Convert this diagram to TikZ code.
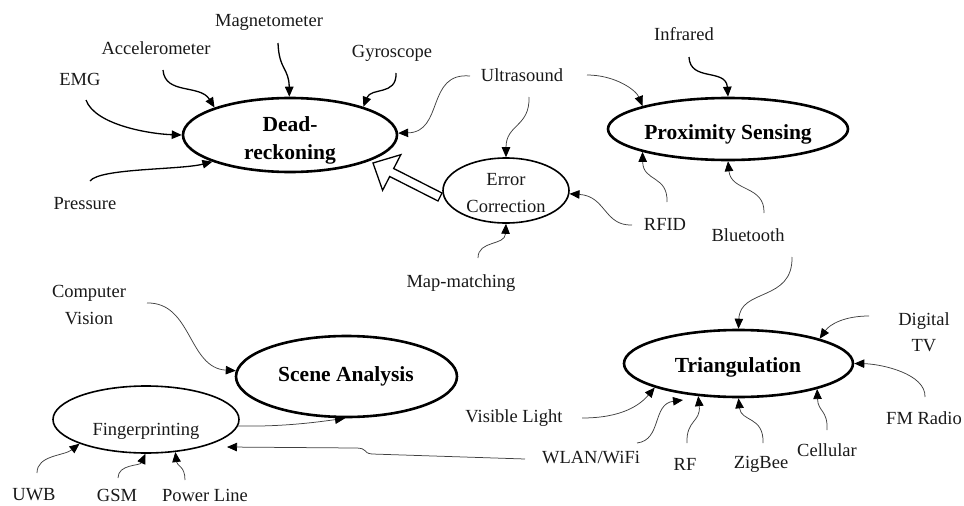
\documentclass[tikz,border=0pt]{standalone}
\usepackage{fontspec}
\setmainfont{Liberation Serif}
\usetikzlibrary{arrows.meta,shapes.geometric}
\tikzset{
  lab/.style={inner sep=0pt, font=\fontsize{18.5}{26.5}\selectfont, align=center, text=black!90},
  maintext/.style={inner sep=0pt, font=\fontsize{21.5}{28}\selectfont\bfseries, align=center},
  mainell/.style={ellipse, draw, line width=2.6pt, inner sep=0pt},
  subell/.style={ellipse, draw, line width=1.6pt, inner sep=0pt},
  strong/.style={line width=1.3pt, -{Triangle[length=10pt,width=8.5pt]}},
  weak/.style={line width=0.75pt, draw=black!75, -{Triangle[length=10pt,width=8.5pt,color=black]}},
}
\begin{document}
\begin{tikzpicture}[x=1pt,y=-1pt]
\useasboundingbox (0,0) rectangle (964,506);
% ellipses
\node[mainell, minimum width=214pt, minimum height=74pt] (dr) at (290,135) {};
\node[mainell, minimum width=240pt, minimum height=62pt] (ps) at (728,129) {};
\node[mainell, minimum width=221pt, minimum height=81pt] (sa) at (346.5,376.5) {};
\node[mainell, minimum width=229pt, minimum height=67pt] (tr) at (738.5,363.5) {};
\node[subell, minimum width=126pt, minimum height=65pt] (ec) at (506,190.5) {};
\node[subell, minimum width=186pt, minimum height=67pt] (fp) at (146,419.5) {};
% ellipse texts
\node[maintext] (drt) at (290,140.5) {Dead-\\reckoning};
\node[maintext] (pst) at (728,134) {Proximity Sensing};
\node[maintext] (sat) at (346,376) {Scene Analysis};
\node[maintext] (trt) at (738,367) {Triangulation};
\node[lab] (ect) at (506,193) {Error\\Correction};
\node[lab] (fpt) at (146,431) {Fingerprinting};
% labels
\node[lab] (mag) at (269,22) {Magnetometer};
\node[lab] (acc) at (156,48) {Accelerometer};
\node[lab] (gyr) at (392,53) {Gyroscope};
\node[lab] (emg) at (80,79) {EMG};
\node[lab] (pre) at (85,204) {Pressure};
\node[lab] (ult) at (522,75) {Ultrasound};
\node[lab] (inf) at (684,34) {Infrared};
\node[lab] (rfid) at (665,224) {RFID};
\node[lab] (blu) at (748,235) {Bluetooth};
\node[lab] (map) at (461,283) {Map-matching};
\node[lab] (cv) at (89,305) {Computer\\Vision};
\node[lab] (dtv) at (924,332) {Digital\\TV};
\node[lab] (fm) at (924,418) {FM Radio};
\node[lab] (cel) at (827,450) {Cellular};
\node[lab] (zig) at (761,464) {ZigBee};
\node[lab] (rf) at (685,464) {RF};
\node[lab] (wlan) at (591,458) {WLAN/WiFi};
\node[lab] (vis) at (514,418) {Visible Light};
\node[lab] (uwb) at (34,495) {UWB};
\node[lab] (gsm) at (117,495) {GSM};
\node[lab] (pow) at (205,495) {Power Line};
% free start points just outside the labels
\coordinate (magS) at (278,43);
\coordinate (accS) at (163,70);
\coordinate (gyrS) at (396,73);
\coordinate (emgS) at (86,100);
\coordinate (preS) at (90,181);
\coordinate (ultL) at (470,76);
\coordinate (ultD) at (529,97);
\coordinate (ultR) at (587,75);
\coordinate (infS) at (689,57);
\coordinate (rfidL) at (632,225);
\coordinate (rfidU) at (667,202);
\coordinate (bluU) at (764,213);
\coordinate (bluD) at (792,257);
\coordinate (mapS) at (478,258);
\coordinate (cvS) at (147,303);
\coordinate (dtvS) at (869,316);
\coordinate (fmS) at (925,397);
\coordinate (celS) at (827,430);
\coordinate (zigS) at (763,443);
\coordinate (rfS) at (687,443);
\coordinate (wlanU) at (637,443);
\coordinate (wlanL) at (525,459);
\coordinate (visS) at (582,418);
\coordinate (uwbS) at (37,473);
\coordinate (gsmS) at (118,478);
\coordinate (powS) at (185,480);
\coordinate (wlanT) at (683,400);
\coordinate (fpW) at (227,447);
% Dead-reckoning inputs
\draw[strong] (magS) .. controls (279,70) and (289,68) .. (dr.91);
\draw[strong] (accS) .. controls (165,95) and (200,84) .. (dr.160);
\draw[strong] (gyrS) .. controls (397,96) and (371,87) .. (dr.21);
\draw[strong] (emgS) .. controls (95,125) and (150,134) .. (dr.180);
\draw[strong] (preS) .. controls (100,168) and (180,170) .. (dr.199);
\draw[weak] (ultL) .. controls (426,72) and (444,132) .. (dr.1);
% Proximity inputs
\draw[strong] (infS) .. controls (690,82) and (726,68) .. (ps.90);
\draw[weak] (ultR) .. controls (615,75) and (636,90) .. (ps.165);
\draw[weak] (rfidU) .. controls (668,175) and (643,182) .. (ps.195);
\draw[weak] (bluU) .. controls (765,185) and (731,192) .. (ps.270);
% Error correction inputs
\draw[weak] (ultD) .. controls (530,127) and (506,124) .. (ec.90);
\draw[weak] (rfidL) .. controls (604,226) and (606,196) .. (ec.357);
\draw[weak] (mapS) .. controls (478,240) and (505,246) .. (ec.270);
% hollow arrow from Error Correction to Dead-reckoning
\draw[line width=1.3pt, line join=miter, fill=white]
  (442,193) -- (393.7,168.5) -- (400.8,154.7) -- (373,163) -- (382.6,190.3) -- (389.7,176.5) -- (438,201) -- cycle;
% Triangulation inputs
\draw[weak] (bluD) .. controls (793,302) and (740,288) .. (tr.90);
\draw[weak] (dtvS) .. controls (845,316) and (830,324) .. (tr.17);
\draw[weak] (fmS) .. controls (926,374) and (882,364) .. (tr.0);
\draw[weak] (celS) .. controls (828,410) and (818,412) .. (tr.342);
\draw[weak] (zigS) .. controls (764,416) and (741,422) .. (tr.270);
\draw[weak] (rfS) .. controls (686,420) and (701,422) .. (tr.219);
\draw[weak] (wlanU) .. controls (662,440) and (652,404) .. (wlanT);
\draw[weak] (visS) .. controls (622,418) and (640,405) .. (tr.196);
% Scene analysis inputs
\draw[weak] (cvS) .. controls (192,302) and (188,368) .. (sa.177);
\draw[weak] (fp.356) .. controls (282,427) and (318,422) .. (sa.268);
% Fingerprinting inputs
\draw[weak] (wlanL) -- (372,454) .. controls (362,453) and (369,448) .. (355,448) -- (fpW);
\draw[weak] (uwbS) .. controls (37,455) and (64,456) .. (fp.200);
\draw[weak] (gsmS) .. controls (118,464) and (140,466) .. (fp.269);
\draw[weak] (powS) .. controls (185,466) and (177,466) .. (fp.312);
\end{tikzpicture}
\end{document}
